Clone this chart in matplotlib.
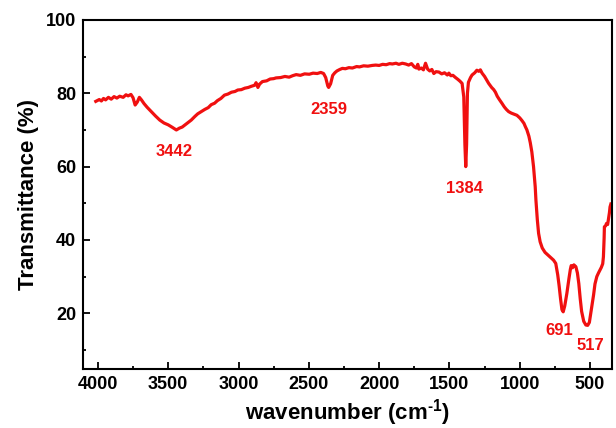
import matplotlib
matplotlib.use("Agg")
import matplotlib.pyplot as plt
from matplotlib.ticker import MultipleLocator


# -----------------------------
# FTIR spectrum (read by hand)
# -----------------------------

wavenumber = [
  4015, 3990, 3975, 3960, 3945, 3925, 3905, 3885, 3865, 3845,
  3820, 3800, 3785, 3765, 3750, 3735, 3720, 3705, 3690, 3672,
  3650, 3620, 3590, 3560, 3530, 3500, 3470, 3442, 3420, 3400,
  3380, 3360, 3336, 3310, 3290, 3265, 3240, 3215, 3194, 3170,
  3150, 3125, 3100, 3075, 3050, 3025, 3005, 2980, 2955, 2930,
  2910, 2885, 2875, 2862, 2850, 2830, 2800, 2775, 2750, 2733,
  2700, 2670, 2640, 2615, 2590, 2560, 2530, 2497, 2470, 2440,
  2415, 2395, 2380, 2365, 2359, 2345, 2330, 2315, 2300, 2280,
  2261, 2240, 2215, 2190, 2160, 2140, 2110, 2080, 2050, 2024,
  2000, 1975, 1950, 1925, 1906, 1880, 1860, 1835, 1811, 1790,
  1770, 1750, 1735, 1725, 1717, 1700, 1685, 1670, 1655, 1640,
  1625, 1611, 1595, 1575, 1555, 1535, 1515, 1504, 1490, 1475,
  1457, 1440, 1425, 1410, 1398, 1390, 1384, 1378, 1372, 1365,
  1350, 1339, 1320, 1305, 1292, 1280, 1268, 1250, 1235, 1221,
  1200, 1185, 1173, 1160, 1145, 1127, 1110, 1095, 1079, 1060,
  1040, 1020, 1000, 985, 970, 960, 949, 935, 925, 914,
  902, 890, 885, 875, 866, 855, 840, 820, 800, 780,
  760, 744, 730, 720, 710, 700, 691, 680, 665, 650,
  640, 634, 625, 615, 601, 590, 580, 570, 560, 545,
  530, 517, 505, 495, 488, 475, 465, 452, 440, 429,
  420, 410, 405, 400, 398, 390, 383, 375, 368, 362,
  358, 352,
]

transmittance = [
  77.8, 78.3, 77.9, 78.6, 78.2, 78.9, 78.4, 79.1, 78.7, 79.2,
  78.9, 79.6, 79.3, 79.7, 78.8, 76.8, 77.6, 78.9, 78.2, 77.2,
  76.2, 75.0, 73.8, 72.7, 71.9, 71.4, 70.7, 70.0, 70.5, 70.8,
  71.4, 72.0, 72.7, 73.7, 74.4, 75.0, 75.6, 76.1, 76.9, 77.3,
  78.0, 78.6, 79.5, 79.8, 80.3, 80.5, 80.9, 81.0, 81.4, 81.6,
  81.9, 82.2, 82.9, 81.6, 82.5, 83.2, 83.4, 83.9, 84.0, 84.2,
  84.3, 84.6, 84.4, 84.8, 85.1, 84.9, 85.3, 85.2, 85.5, 85.4,
  85.7, 85.4, 84.3, 82.0, 81.6, 82.6, 84.9, 85.6, 86.1, 86.5,
  86.8, 86.7, 87.0, 86.9, 87.3, 87.2, 87.5, 87.4, 87.6, 87.7,
  87.6, 87.9, 87.8, 88.1, 88.0, 88.2, 87.9, 88.2, 88.0, 87.7,
  88.1, 87.2, 86.9, 87.9, 86.6, 86.9, 86.4, 88.2, 86.6, 86.1,
  86.5, 85.4, 85.9, 85.8, 85.3, 85.6, 85.0, 85.5, 84.8, 84.9,
  84.3, 83.8, 83.3, 82.7, 79.0, 66.0, 60.0, 66.0, 80.0, 83.0,
  84.3, 85.0, 85.6, 86.3, 86.0, 86.4, 85.5, 84.6, 83.6, 82.7,
  81.6, 81.0, 80.3, 79.2, 78.3, 77.3, 76.3, 75.6, 75.0, 74.6,
  74.3, 74.0, 73.3, 72.6, 71.8, 70.9, 70.0, 68.3, 66.5, 64.0,
  60.0, 54.5, 50.9, 45.5, 41.8, 39.5, 37.8, 36.6, 35.9, 35.2,
  34.5, 33.6, 30.5, 27.5, 24.0, 21.0, 20.4, 22.0, 25.4, 29.5,
  32.0, 33.0, 32.4, 33.2, 32.7, 31.0, 28.1, 24.0, 20.5, 17.8,
  16.8, 16.7, 17.5, 20.0, 21.8, 25.0, 28.0, 30.0, 31.0, 31.8,
  32.5, 33.5, 35.4, 40.5, 43.6, 43.8, 44.5, 44.2, 46.0, 47.5,
  49.0, 49.8,
]

# peak annotations: text, x, y
peak_labels = ["3442", "2359", "1384", "691", "517"]
peak_x = [3461, 2355, 1394, 717, 497]
peak_y = [64.2, 75.7, 54.0, 15.3, 11.2]


# -----------------------------
# Style
# -----------------------------

plt.rcParams["font.family"] = ["Liberation Sans", "DejaVu Sans"]
plt.rcParams["font.weight"] = "bold"
plt.rcParams["mathtext.fontset"] = "custom"
plt.rcParams["mathtext.rm"] = "Liberation Sans:bold"
plt.rcParams["mathtext.it"] = "Liberation Sans:bold"
plt.rcParams["mathtext.bf"] = "Liberation Sans:bold"

RED = "#f01010"


# -----------------------------
# Plot
# -----------------------------

fig = plt.figure(figsize=(6.16, 4.28), dpi=100)
ax = fig.add_axes([0.1347, 0.1379, 0.8588, 0.8154])

ax.plot(wavenumber, transmittance, color=RED, linewidth=2.3)

for txt, x, y in zip(peak_labels, peak_x, peak_y):
  ax.text(x, y, txt, color=RED, fontsize=12, fontweight="bold",
          ha="center", va="center")

ax.set_xlim(4106, 344)
ax.set_ylim(4.8, 100)

ax.xaxis.set_major_locator(MultipleLocator(500))
ax.xaxis.set_minor_locator(MultipleLocator(250))
ax.yaxis.set_major_locator(MultipleLocator(20))
ax.yaxis.set_minor_locator(MultipleLocator(10))

ax.tick_params(which="both", direction="in", top=False, right=False,
               width=1.3, labelsize=13)
ax.tick_params(which="major", length=5, pad=5)
ax.tick_params(which="minor", length=2.5)

for lbl in ax.get_xticklabels() + ax.get_yticklabels():
  lbl.set_fontweight("bold")

for sp in ax.spines.values():
  sp.set_linewidth(1.5)

ax.set_xlabel(r"wavenumber (cm$^{\text{-}1}$)", fontsize=16, fontweight="bold",
              labelpad=3)
ax.set_ylabel("Transmittance (%)", fontsize=16, fontweight="bold",
              labelpad=5)


# -----------------------------
# Save
# -----------------------------

fig.savefig("out.png", dpi=100)
plt.close(fig)

print("Saved: out.png")
